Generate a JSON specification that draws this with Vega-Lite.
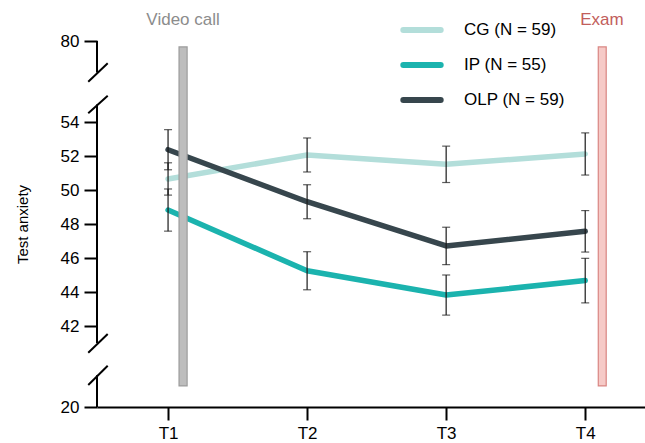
{
  "$schema": "https://vega.github.io/schema/vega-lite/v6.json",
  "autosize": {"type": "none"},
  "padding": {"left": 97, "top": 41, "right": 0, "bottom": 36},
  "width": 548,
  "height": 366,
  "config": {
    "font": "Liberation Sans",
    "view": {"stroke": null},
    "axis": {
      "grid": false, "tickColor": "#000", "tickWidth": 2, "tickSize": 13,
      "labelFontSize": 17, "labelColor": "#000", "labelPadding": 5,
      "titleFontSize": 15, "titleFontWeight": "normal", "titleColor": "#000"
    },
    "axisY": {"titlePadding": 30}
  },
  "datasets": {
    "scores": [
      {"group": "CG (N = 59)", "t": 1, "mean": 50.65, "lo": 49.70, "hi": 51.60},
      {"group": "CG (N = 59)", "t": 2, "mean": 52.06, "lo": 51.06, "hi": 53.06},
      {"group": "CG (N = 59)", "t": 3, "mean": 51.51, "lo": 50.44, "hi": 52.58},
      {"group": "CG (N = 59)", "t": 4, "mean": 52.12, "lo": 50.88, "hi": 53.36},
      {"group": "IP (N = 55)", "t": 1, "mean": 48.82, "lo": 47.58, "hi": 50.06},
      {"group": "IP (N = 55)", "t": 2, "mean": 45.25, "lo": 44.13, "hi": 46.37},
      {"group": "IP (N = 55)", "t": 3, "mean": 43.82, "lo": 42.64, "hi": 45.00},
      {"group": "IP (N = 55)", "t": 4, "mean": 44.67, "lo": 43.36, "hi": 45.98},
      {"group": "OLP (N = 59)", "t": 1, "mean": 52.37, "lo": 51.19, "hi": 53.55},
      {"group": "OLP (N = 59)", "t": 2, "mean": 49.31, "lo": 48.31, "hi": 50.31},
      {"group": "OLP (N = 59)", "t": 3, "mean": 46.71, "lo": 45.61, "hi": 47.81},
      {"group": "OLP (N = 59)", "t": 4, "mean": 47.57, "lo": 46.35, "hi": 48.79}
    ],
    "events": [
      {"event": "Video call", "x0": 1.079, "x1": 1.137, "y0": 26.9, "y1": 77.7, "lx": 1.108, "ly": 88.2},
      {"event": "Exam", "x0": 4.094, "x1": 4.151, "y0": 26.9, "y1": 77.7, "lx": 4.12, "ly": 88.2}
    ],
    "axisSegments": [
      {"x": 0.489, "y0": 20, "y1": 30.4},
      {"x": 0.489, "y0": 41, "y1": 55.2},
      {"x": 0.489, "y0": 67.7, "y1": 80}
    ],
    "breakMarks": [
      {"xa": 0.426, "ya": 27.22, "xb": 0.566, "yb": 33.55},
      {"xa": 0.426, "ya": 37.82, "xb": 0.566, "yb": 41.53},
      {"xa": 0.426, "ya": 54.51, "xb": 0.566, "yb": 58.63},
      {"xa": 0.426, "ya": 64.1, "xb": 0.566, "yb": 71.29}
    ]
  },
  "layer": [
    {
      "data": {"name": "scores"},
      "mark": {"type": "line", "strokeWidth": 5.5, "strokeCap": "round", "strokeJoin": "round"},
      "encoding": {
        "x": {
          "field": "t", "type": "quantitative",
          "scale": {"domain": [0.489, 4.43], "nice": false, "zero": false},
          "axis": {
            "values": [1, 2, 3, 4], "labelExpr": "'T' + datum.value", "title": null,
            "domainColor": "#000", "domainWidth": 2
          }
        },
        "y": {
          "field": "mean", "type": "quantitative",
          "scale": {"domain": [20, 41, 55, 80], "range": [366, 302, 64, 0], "nice": false, "zero": false},
          "axis": {
            "values": [20, 42, 44, 46, 48, 50, 52, 54, 80], "domain": false,
            "title": "Test anxiety"
          }
        },
        "color": {
          "field": "group", "type": "nominal",
          "scale": {"domain": ["CG (N = 59)", "IP (N = 55)", "OLP (N = 59)"], "range": ["#b3deda", "#1bb3ae", "#37464d"]},
          "legend": {
            "title": null, "orient": "none", "legendX": 303, "legendY": -33,
            "symbolType": "stroke", "symbolSize": 1400, "symbolStrokeWidth": 6,
            "labelFontSize": 17, "labelColor": "#000", "labelOffset": 20, "rowPadding": 1, "padding": 0,
            "encode": {"symbols": {"update": {"strokeCap": {"value": "round"}}}}
          }
        }
      }
    },
    {
      "data": {"name": "scores"},
      "mark": {"type": "rule", "color": "#1a1a1a", "strokeWidth": 1.2},
      "encoding": {
        "x": {"field": "t", "type": "quantitative"},
        "y": {"field": "lo", "type": "quantitative"},
        "y2": {"field": "hi"}
      }
    },
    {
      "data": {"name": "scores"},
      "mark": {"type": "tick", "orient": "horizontal", "color": "#1a1a1a", "thickness": 1.2, "size": 8},
      "encoding": {
        "x": {"field": "t", "type": "quantitative"},
        "y": {"field": "lo", "type": "quantitative"}
      }
    },
    {
      "data": {"name": "scores"},
      "mark": {"type": "tick", "orient": "horizontal", "color": "#1a1a1a", "thickness": 1.2, "size": 8},
      "encoding": {
        "x": {"field": "t", "type": "quantitative"},
        "y": {"field": "hi", "type": "quantitative"}
      }
    },
    {
      "data": {"name": "events"},
      "mark": {"type": "rect", "strokeWidth": 1.2},
      "encoding": {
        "x": {"field": "x0", "type": "quantitative"},
        "x2": {"field": "x1"},
        "y": {"field": "y0", "type": "quantitative"},
        "y2": {"field": "y1"},
        "fill": {
          "field": "event", "type": "nominal", "legend": null,
          "scale": {"domain": ["Video call", "Exam"], "range": ["#bdbdbd", "#f6cac7"]}
        },
        "stroke": {
          "field": "event", "type": "nominal", "legend": null,
          "scale": {"domain": ["Video call", "Exam"], "range": ["#9c9c9c", "#d98683"]}
        }
      }
    },
    {
      "data": {"name": "events"},
      "mark": {"type": "text", "fontSize": 17, "baseline": "middle", "align": "center"},
      "encoding": {
        "x": {"field": "lx", "type": "quantitative"},
        "y": {"field": "ly", "type": "quantitative"},
        "text": {"field": "event"},
        "color": {
          "field": "event", "type": "nominal", "legend": null,
          "scale": {"domain": ["Video call", "Exam"], "range": ["#8c8c8c", "#c25e5c"]}
        }
      }
    },
    {
      "data": {"name": "axisSegments"},
      "mark": {"type": "rule", "color": "#000", "strokeWidth": 2},
      "encoding": {
        "x": {"field": "x", "type": "quantitative"},
        "y": {"field": "y0", "type": "quantitative"},
        "y2": {"field": "y1"}
      }
    },
    {
      "data": {"name": "breakMarks"},
      "mark": {"type": "rule", "color": "#000", "strokeWidth": 2},
      "encoding": {
        "x": {"field": "xa", "type": "quantitative"},
        "y": {"field": "ya", "type": "quantitative"},
        "x2": {"field": "xb"},
        "y2": {"field": "yb"}
      }
    }
  ],
  "resolve": {"scale": {"color": "independent"}}
}
